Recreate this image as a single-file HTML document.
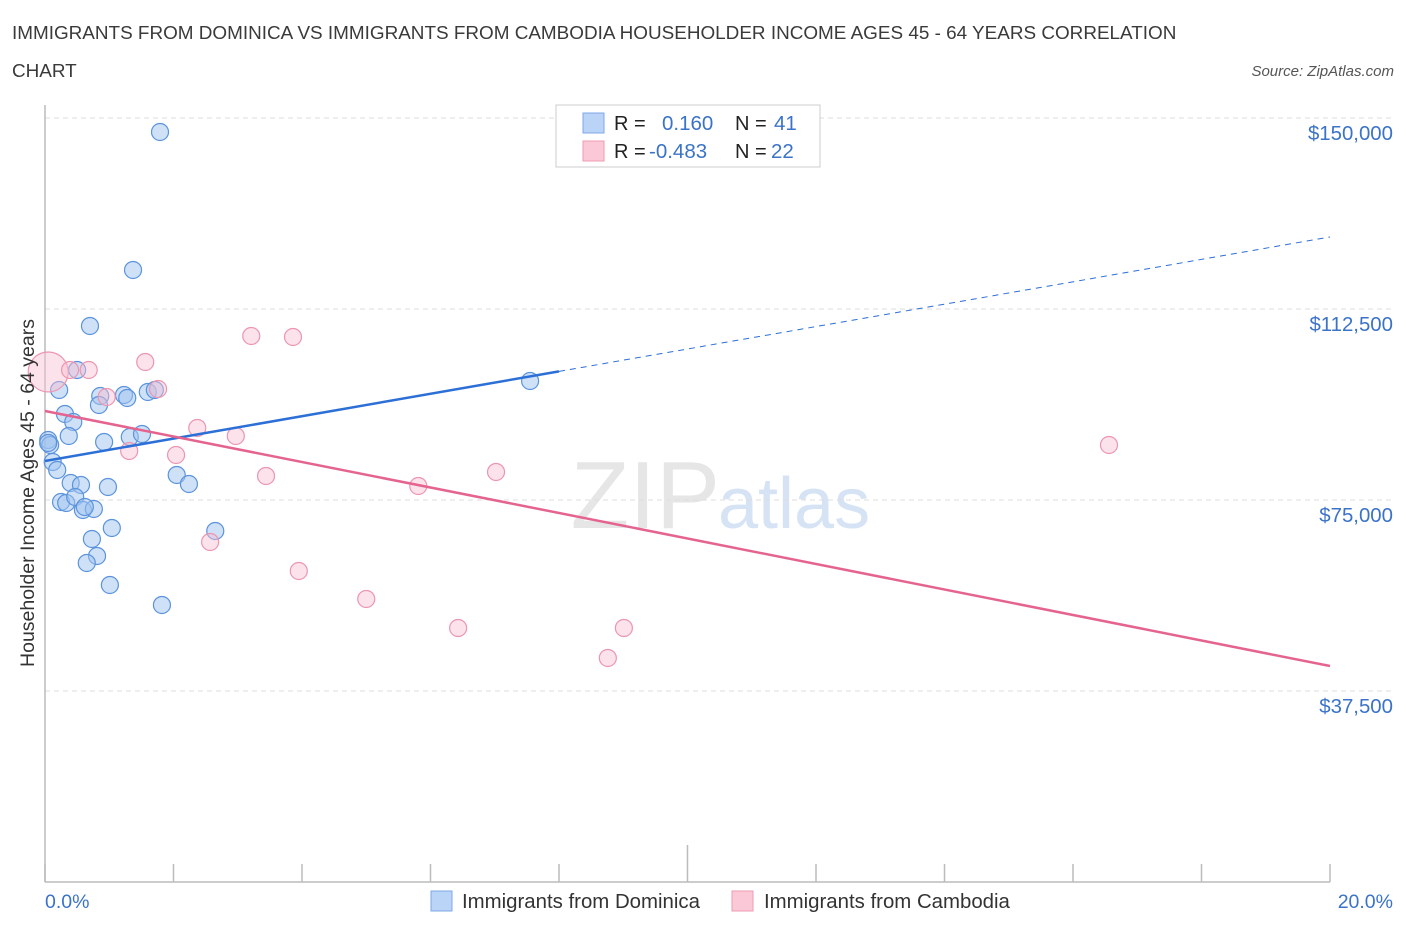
<!DOCTYPE html>
<html><head><meta charset="utf-8"><style>
body{margin:0;background:#fff;font-family:"Liberation Sans",sans-serif;}
svg text{font-family:"Liberation Sans",sans-serif;}
</style></head><body>
<svg id="chart" width="1406" height="930" xmlns="http://www.w3.org/2000/svg">
<text x="12" y="39" font-size="18.9" fill="#3a3a3a">IMMIGRANTS FROM DOMINICA VS IMMIGRANTS FROM CAMBODIA HOUSEHOLDER INCOME AGES 45 - 64 YEARS CORRELATION</text>
<text x="12" y="77" font-size="18.9" fill="#3a3a3a">CHART</text>
<text x="1394" y="76" font-size="15" fill="#555" font-style="italic" text-anchor="end">Source: ZipAtlas.com</text>
<text x="720" y="528" font-size="96" fill="#e6e6e6" text-anchor="end" font-family="Liberation Serif">ZIP</text>
<text x="718" y="528" font-size="72" fill="#d5e3f5">atlas</text>
<g id="grid"></g>
<g id="axes"></g>
<g id="marks"></g>
<text transform="translate(34,493) rotate(-90)" font-size="19.5" fill="#333" text-anchor="middle">Householder Income Ages 45 - 64 years</text>
<text x="45" y="908" font-size="19.5" fill="#3b73c8">0.0%</text>
<text x="1393" y="908" font-size="19.5" fill="#3b73c8" text-anchor="end">20.0%</text>
<g>
<rect x="556" y="105" width="264" height="62" fill="#fff" stroke="#ccc"/>
<rect x="583" y="113" width="21" height="20" fill="#b9d4f7" stroke="#7ea9e6"/>
<rect x="583" y="141" width="21" height="20" fill="#fac8d6" stroke="#ef9bb3"/>
<text x="614" y="130" font-size="20" fill="#222">R =</text>
<text x="662" y="130" font-size="20.5" fill="#3b73c8">0.160</text>
<text x="735" y="130" font-size="20" fill="#222">N =</text>
<text x="774" y="130" font-size="20.5" fill="#3b73c8">41</text>
<text x="614" y="158" font-size="20" fill="#222">R =</text>
<text x="649" y="158" font-size="20.5" fill="#3b73c8">-0.483</text>
<text x="735" y="158" font-size="20" fill="#222">N =</text>
<text x="771" y="158" font-size="20.5" fill="#3b73c8">22</text>
</g>
<g>
<rect x="431" y="891" width="21" height="20" fill="#b9d4f7" stroke="#7ea9e6"/>
<text x="462" y="908" font-size="20.4" fill="#333">Immigrants from Dominica</text>
<rect x="732" y="891" width="21" height="20" fill="#fac8d6" stroke="#ef9bb3"/>
<text x="764" y="908" font-size="20.4" fill="#333">Immigrants from Cambodia</text>
</g>
</svg>
<script>
const yTicks=[37500,75000,112500,150000];
const yTickLabels=["$37,500","$75,000","$112,500","$150,000"];
const xTicks=[0,2,4,6,8,10,12,14,16,18,20];
const dominicaX=[1.79,1.37,0.70,0.50,0.22,0.86,0.84,1.23,1.28,1.60,1.71,7.55,0.31,0.44,0.05,0.37,0.92,1.32,1.51,0.08,0.12,0.19,2.05,2.24,0.40,0.56,0.98,0.25,0.33,0.47,0.59,0.76,0.62,1.04,2.65,0.73,0.81,0.65,1.01,1.82,0.05];
const dominicaY=[147255,120160,109165,100526,96599,95421,93654,95618,95029,96207,96599,98366,91887,90316,86782,87568,86390,87371,87960,85801,82463,80892,79910,78145,78340,77948,77554,74609,74413,75591,73039,73235,73628,69504,68915,67345,64007,62633,58313,54386,86193];
const cambodiaX=[0.05,0.39,0.68,1.56,3.21,3.86,1.76,0.96,2.37,2.04,2.97,1.31,3.44,5.81,7.02,16.56,2.57,3.95,5.00,6.43,9.01,8.76];
const cambodiaY=[100133,100526,100526,102097,107202,107005,96795,95225,89138,83837,87568,84623,79714,77751,80500,85801,66756,61062,55564,49870,49870,43980];
const blueTrend=[82659,126639];
const pinkTrend=[92476,42409];
const NS="http://www.w3.org/2000/svg";
function sx(v){return 45+v/20*1285;}
function sy(v){return 882-v/37500*191;}
function mk(tag,attrs,parent){const e=document.createElementNS(NS,tag);for(const k in attrs)e.setAttribute(k,attrs[k]);parent.appendChild(e);return e;}
const grid=document.getElementById('grid'),axes=document.getElementById('axes'),marks=document.getElementById('marks');
yTicks.forEach((t,i)=>{
 const l=mk('line',{x1:45,x2:1395,y1:sy(t),y2:sy(t),stroke:'#ddd','stroke-dasharray':'5,4'},grid);
 
 
 const tx=mk('text',{x:1393,y:sy(t)+22,'font-size':20.4,fill:'#3b73c8','text-anchor':'end'},grid);
 tx.textContent=yTickLabels[i];
 
 
});
const ax=mk('line',{x1:45,x2:1330,y1:882,y2:882,stroke:'#bbb','stroke-width':1.5},axes);


const ay=mk('line',{x1:45,x2:45,y1:105,y2:882,stroke:'#bbb','stroke-width':1.5},axes);


xTicks.forEach(t=>{
 const tk=mk('line',{x1:sx(t),x2:sx(t),y1:t===10?845:864,y2:882,stroke:'#bbb','stroke-width':1.5},axes);
 
 
});
dominicaX.forEach((x,i)=>{
 const c=mk('circle',{cx:sx(x),cy:sy(dominicaY[i]),r:8.5,fill:'rgba(160,196,240,0.5)',stroke:'#5b93dd','stroke-width':1.2},marks);
 
 
});
cambodiaX.forEach((x,i)=>{
 const c=mk('circle',{cx:sx(x),cy:sy(cambodiaY[i]),r:i===0?20:8.5,fill:'rgba(248,190,208,0.45)',stroke:'#ec96b0','stroke-width':1.2},marks);
 
 
});
function bl(x){return blueTrend[0]+(blueTrend[1]-blueTrend[0])*x/20;}
const b1=mk('line',{x1:sx(0),y1:sy(bl(0)),x2:sx(8),y2:sy(bl(8)),stroke:'#2c6fd6','stroke-width':2.5},marks);


const b2=mk('line',{x1:sx(8),y1:sy(bl(8)),x2:sx(20),y2:sy(bl(20)),stroke:'#2c6fd6','stroke-width':1,'stroke-dasharray':'6,5'},marks);


const p1=mk('line',{x1:sx(0),y1:sy(pinkTrend[0]),x2:sx(20),y2:sy(pinkTrend[1]),stroke:'#e5648f','stroke-width':2.5},marks);


</script>
</body></html>
